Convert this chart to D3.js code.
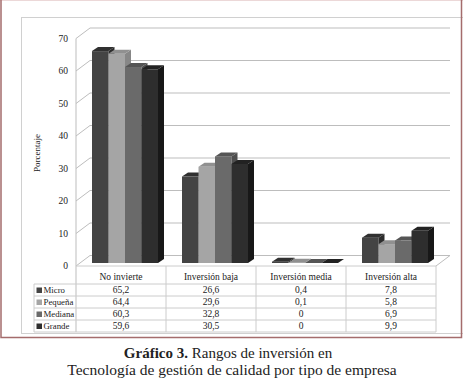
<!DOCTYPE html>
<html>
<head>
<meta charset="utf-8">
<script src="https://cdn.jsdelivr.net/npm/d3@7"></script>
<style>
    body { margin: 0; background: #fff; }
    text { font-family: "Liberation Serif", "DejaVu Serif", serif; fill: #222; }
</style>
</head>
<body>
<div id="chart"></div>
<script>
'use strict';

/*
Data
 */
const categories = ['No invierte', 'Inversión baja', 'Inversión media', 'Inversión alta'];
const seriesNames = ['Micro', 'Pequeña', 'Mediana', 'Grande'];
const micro = [65.2, 26.6, 0.4, 7.8];
const pequena = [64.4, 29.6, 0.1, 5.8];
const mediana = [60.3, 32.8, 0, 6.9];
const grande = [59.6, 30.5, 0, 9.9];
const yTicks = [0, 10, 20, 30, 40, 50, 60, 70];

/*
3D column chart with data table
 */
class Column3D {

    // Configs
    svgW = 463;
    svgH = 384;
    x0 = 76;
    x1 = 436;
    depth = {dx: 14, dy: -10.5};
    barDepth = {dx: 4, dy: -3};
    side = {dx: 6, dy: -4};
    rowsY = [266, 284, 296, 308, 320, 332];
    colors = [
        {front: '#444444', side: '#2c2c2c', top: '#303030'},
        {front: '#a5a5a5', side: '#878787', top: '#909090'},
        {front: '#6a6a6a', side: '#4e4e4e', top: '#555555'},
        {front: '#2e2e2e', side: '#181818', top: '#222222'}
    ];

    constructor(_target) {
        this.target = _target;
        this.init();
    }

    init() {
        const vis = this;

        vis.svg = d3.select(`#${vis.target}`)
            .append('svg')
            .attr('width', vis.svgW)
            .attr('height', vis.svgH);

        vis.yScale = d3.scaleLinear()
            .domain([0, 70])
            .range([266, 38.5]);
        vis.xScale = d3.scaleBand()
            .domain(categories)
            .range([vis.x0, vis.x1]);
        vis.subScale = d3.scaleBand()
            .domain(seriesNames)
            .range([12, vis.xScale.bandwidth() - 12]);

        vis.wrangle();
    }

    wrangle() {
        const vis = this;
        const all = [micro, pequena, mediana, grande];
        vis.bars = [];
        categories.forEach((c, ci) => {
            seriesNames.forEach((s, si) => {
                vis.bars.push({cat: c, series: s, si: si, value: all[si][ci]});
            });
        });
        vis.rows = seriesNames.map((s, si) => ({name: s, si: si, values: all[si]}));
        vis.render();
    }

    render() {
        const vis = this;
        const d = vis.depth;
        const fmt = v => String(v).replace('.', ',');

        // Page frame
        vis.svg.append('rect')
            .attr('x', 21.5).attr('y', 17.5)
            .attr('width', 460).attr('height', 316)
            .attr('fill', 'none').attr('stroke', '#d0d0d0');
        vis.svg.append('line')
            .attr('x1', 0).attr('x2', vis.svgW).attr('y1', 0.5).attr('y2', 0.5)
            .attr('stroke', '#ecd8d8');
        vis.svg.append('path')
            .attr('d', 'M1,0 V337.5 H461.5 V0')
            .attr('fill', 'none').attr('stroke', '#a46c6c').attr('stroke-width', 1.5);

        // Walls and floor
        const walls = vis.svg.append('g').attr('class', 'walls')
            .attr('stroke', '#bdbdbd').attr('fill', 'none');
        walls.selectAll('.grid')
            .data(yTicks)
            .join('path')
            .attr('class', 'grid')
            .attr('d', t => {
                const y = vis.yScale(t);
                return `M${vis.x0},${y} L${vis.x0 + d.dx},${y + d.dy} H${vis.x1 + d.dx}`;
            });
        walls.append('line')
            .attr('x1', vis.x0).attr('x2', vis.x0)
            .attr('y1', vis.yScale(70)).attr('y2', vis.rowsY[5]);
        walls.append('path')
            .attr('d', `M${vis.x1},${vis.yScale(0)} L${vis.x1 + d.dx},${vis.yScale(0) + d.dy}`);

        // Y ticks
        vis.svg.append('g').selectAll('text')
            .data(yTicks)
            .join('text')
            .attr('x', 68)
            .attr('y', t => vis.yScale(t) + 3)
            .attr('text-anchor', 'end')
            .attr('font-size', 9.5)
            .text(t => t);

        vis.svg.append('text')
            .attr('transform', 'translate(40,153) rotate(-90)')
            .attr('text-anchor', 'middle')
            .attr('font-size', 9)
            .text('Porcentaje');

        // Bars
        const bd = vis.barDepth;
        const sd = vis.side;
        const y0 = vis.yScale(0) + bd.dy;
        vis.svg.append('g').attr('class', 'bars')
            .selectAll('.barG')
            .data(vis.bars)
            .join('g')
            .attr('class', 'barG')
            .each(function(b) {
                const g = d3.select(this);
                const xa = vis.xScale(b.cat) + vis.subScale(b.series) + bd.dx;
                const xb = xa + vis.subScale.bandwidth();
                const yt = vis.yScale(b.value) + bd.dy;
                const c = vis.colors[b.si];
                g.append('rect')
                    .attr('x', xa).attr('y', yt)
                    .attr('width', xb - xa).attr('height', y0 - yt)
                    .attr('fill', c.front);
                g.append('path')
                    .attr('d', `M${xb},${yt} L${xb + sd.dx},${yt + sd.dy} V${y0 + sd.dy} L${xb},${y0}Z`)
                    .attr('fill', c.side);
                g.append('path')
                    .attr('d', `M${xa},${yt} L${xa + sd.dx},${yt + sd.dy} H${xb + sd.dx} L${xb},${yt}Z`)
                    .attr('fill', c.top);
            });

        // Data table
        const ry = vis.rowsY;
        const table = vis.svg.append('g').attr('class', 'table');
        const lines = table.append('g').attr('stroke', '#cccccc');
        lines.append('line')
            .attr('x1', vis.x0).attr('x2', vis.x1).attr('y1', ry[0]).attr('y2', ry[0]);
        lines.selectAll('.hl')
            .data(ry.slice(1))
            .join('line')
            .attr('class', 'hl')
            .attr('x1', 34).attr('x2', vis.x1)
            .attr('y1', y => y).attr('y2', y => y);
        lines.append('line')
            .attr('x1', 34).attr('x2', 34).attr('y1', ry[1]).attr('y2', ry[5]);
        lines.selectAll('.vl')
            .data(categories)
            .join('line')
            .attr('class', 'vl')
            .attr('x1', c => vis.xScale(c) + vis.xScale.bandwidth())
            .attr('x2', c => vis.xScale(c) + vis.xScale.bandwidth())
            .attr('y1', ry[0]).attr('y2', ry[5]);

        table.selectAll('.head')
            .data(categories)
            .join('text')
            .attr('class', 'head')
            .attr('x', c => vis.xScale(c) + vis.xScale.bandwidth() / 2)
            .attr('y', 280)
            .attr('text-anchor', 'middle')
            .attr('font-size', 9.5)
            .text(c => c);

        const rowG = table.selectAll('.row')
            .data(vis.rows)
            .join('g')
            .attr('class', 'row')
            .attr('transform', r => `translate(0,${ry[r.si + 1]})`);
        rowG.append('rect')
            .attr('x', 36.5).attr('y', 3.5)
            .attr('width', 5.5).attr('height', 5.5)
            .attr('fill', r => vis.colors[r.si].front);
        rowG.append('text')
            .attr('x', 43.5).attr('y', 9)
            .attr('font-size', 8.8)
            .text(r => r.name);
        rowG.selectAll('.val')
            .data(r => r.values)
            .join('text')
            .attr('class', 'val')
            .attr('x', (v, i) => vis.xScale(categories[i]) + vis.xScale.bandwidth() / 2)
            .attr('y', 9)
            .attr('text-anchor', 'middle')
            .attr('font-size', 9.5)
            .text(v => fmt(v));

        // Caption
        const cap = vis.svg.append('text')
            .attr('x', 228).attr('y', 358)
            .attr('text-anchor', 'middle')
            .attr('font-size', 15);
        cap.append('tspan').attr('font-weight', 'bold').text('Gráfico 3.');
        cap.append('tspan').text(' Rangos de inversión en');
        vis.svg.append('text')
            .attr('x', 232).attr('y', 375)
            .attr('text-anchor', 'middle')
            .attr('font-size', 15.5)
            .text('Tecnología de gestión de calidad por tipo de empresa');
    }
}

new Column3D('chart');
</script>
</body>
</html>
